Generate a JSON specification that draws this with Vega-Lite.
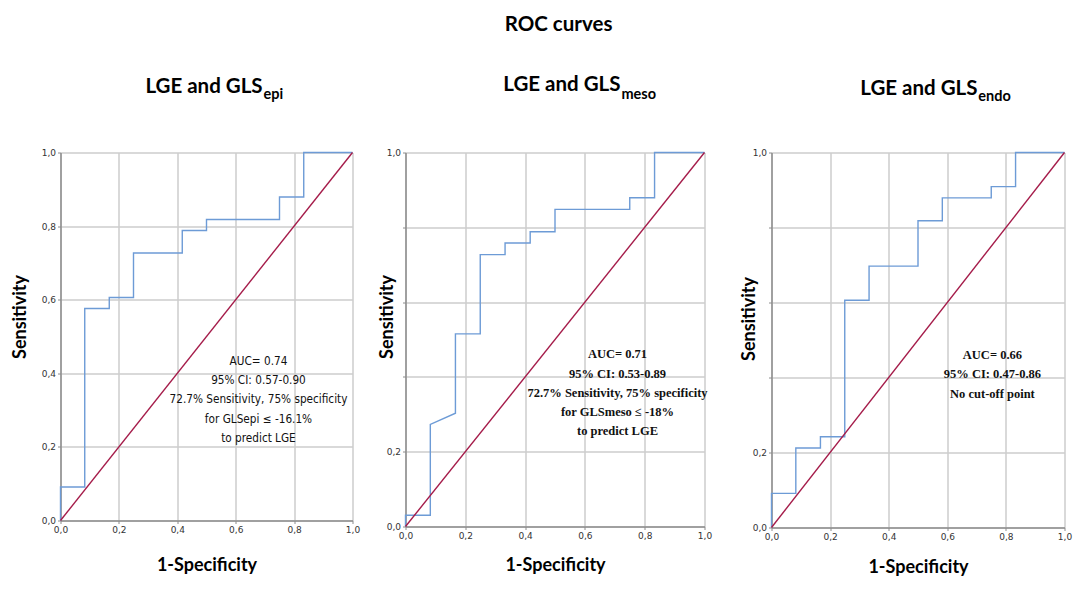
{
  "$schema": "https://vega.github.io/schema/vega-lite/v6.json",
  "background": "white",
  "padding": {"left": 11.5, "top": 14.5, "right": 5, "bottom": 5},
  "title": {"text": "ROC curves", "font": "Lato", "fontSize": 20.5, "fontWeight": "bold", "color": "#000000", "anchor": "middle", "dx": 17, "offset": 40},
  "config": {
    "view": {"stroke": null},
    "axis": {
      "gridColor": "#cccccc", "gridWidth": 1.5, "domainColor": "#8c8c8c", "domainWidth": 1.5,
      "tickColor": "#8c8c8c", "tickSize": 3, "labelFont": "DejaVu Sans", "labelFontSize": 9,
      "labelColor": "#333333", "labelPadding": 2, "labelFlush": false, "labelOverlap": false,
      "titleFont": "Lato", "titleFontWeight": "bold", "titleFontSize": 18, "titleColor": "#000000"
    }
  },
  "hconcat": [
    {
      "bounds": "flush",
      "spacing": 53,
      "hconcat": [
        {
          "width": 292, "height": 368,
          "layer": [
            {
              "data": {"values": [
                {"i": 0, "fpr": 0, "tpr": 0}, {"i": 1, "fpr": 0, "tpr": 0.091}, {"i": 2, "fpr": 0.083, "tpr": 0.091},
                {"i": 3, "fpr": 0.083, "tpr": 0.576}, {"i": 4, "fpr": 0.167, "tpr": 0.576}, {"i": 5, "fpr": 0.167, "tpr": 0.606},
                {"i": 6, "fpr": 0.25, "tpr": 0.606}, {"i": 7, "fpr": 0.25, "tpr": 0.727}, {"i": 8, "fpr": 0.417, "tpr": 0.727},
                {"i": 9, "fpr": 0.417, "tpr": 0.788}, {"i": 10, "fpr": 0.5, "tpr": 0.788}, {"i": 11, "fpr": 0.5, "tpr": 0.818},
                {"i": 12, "fpr": 0.75, "tpr": 0.818}, {"i": 13, "fpr": 0.75, "tpr": 0.879}, {"i": 14, "fpr": 0.833, "tpr": 0.879},
                {"i": 15, "fpr": 0.833, "tpr": 1}, {"i": 16, "fpr": 1, "tpr": 1}
              ]},
              "mark": {"type": "line", "color": "#6d9bd6", "strokeWidth": 1.4},
              "encoding": {
                "x": {"field": "fpr", "type": "quantitative", "scale": {"domain": [0, 1], "nice": false},
                  "axis": {"title": "1-Specificity", "values": [0, 0.2, 0.4, 0.6, 0.8, 1], "labelExpr": "replace(format(datum.value, '.1f'), '.', ',')", "titleY": 45, "titleBaseline": "middle"}},
                "y": {"field": "tpr", "type": "quantitative", "scale": {"domain": [0, 1], "nice": false},
                  "axis": {"title": "Sensitivity", "values": [0, 0.2, 0.4, 0.6, 0.8, 1], "labelExpr": "replace(format(datum.value, '.1f'), '.', ',')", "titleX": -40, "titleY": 164, "titleBaseline": "middle"}},
                "order": {"field": "i", "type": "quantitative"}
              }
            },
            {
              "data": {"values": [{"fpr": 0, "tpr": 0}, {"fpr": 1, "tpr": 1}]},
              "mark": {"type": "line", "color": "#a51c4a", "strokeWidth": 1.4},
              "encoding": {"x": {"field": "fpr", "type": "quantitative"}, "y": {"field": "tpr", "type": "quantitative"}}
            },
            {
              "data": {"values": [{"t": "LGE and GLS"}]},
              "mark": {"type": "text", "font": "Lato", "fontWeight": "bold", "fontSize": 20.5, "align": "right", "baseline": "alphabetic", "color": "#000000"},
              "encoding": {"x": {"datum": 0.692}, "y": {"datum": 1.161}, "text": {"field": "t"}}
            },
            {
              "data": {"values": [{"t": "epi"}]},
              "mark": {"type": "text", "font": "Lato", "fontWeight": "bold", "fontSize": 14.5, "align": "left", "baseline": "alphabetic", "color": "#000000"},
              "encoding": {"x": {"datum": 0.695}, "y": {"datum": 1.145}, "text": {"field": "t"}}
            },
            {
              "data": {"values": [{"t": "AUC= 0.74\n95% CI: 0.57-0.90\n72.7% Sensitivity, 75% specificity\nfor GLSepi ≤ -16.1%\nto predict LGE"}]},
              "mark": {"type": "text", "font": "Liberation Sans Narrow, DejaVu Sans Condensed, Lato", "fontSize": 11.7, "fontWeight": 500, "align": "center", "baseline": "top", "lineBreak": "\n", "lineHeight": 19.3, "color": "#111111"},
              "encoding": {"x": {"datum": 0.678}, "y": {"datum": 0.4476}, "text": {"field": "t"}}
            }
          ]
        },
        {
          "width": 299, "height": 374,
          "layer": [
            {
              "data": {"values": [
                {"i": 0, "fpr": 0, "tpr": 0}, {"i": 1, "fpr": 0, "tpr": 0.03}, {"i": 2, "fpr": 0.083, "tpr": 0.03},
                {"i": 3, "fpr": 0.083, "tpr": 0.273}, {"i": 4, "fpr": 0.167, "tpr": 0.303}, {"i": 5, "fpr": 0.167, "tpr": 0.515},
                {"i": 6, "fpr": 0.25, "tpr": 0.515}, {"i": 7, "fpr": 0.25, "tpr": 0.727}, {"i": 8, "fpr": 0.333, "tpr": 0.727},
                {"i": 9, "fpr": 0.333, "tpr": 0.758}, {"i": 10, "fpr": 0.417, "tpr": 0.758}, {"i": 11, "fpr": 0.417, "tpr": 0.788},
                {"i": 12, "fpr": 0.5, "tpr": 0.788}, {"i": 13, "fpr": 0.5, "tpr": 0.848}, {"i": 14, "fpr": 0.75, "tpr": 0.848},
                {"i": 15, "fpr": 0.75, "tpr": 0.879}, {"i": 16, "fpr": 0.833, "tpr": 0.879}, {"i": 17, "fpr": 0.833, "tpr": 1},
                {"i": 18, "fpr": 1, "tpr": 1}
              ]},
              "mark": {"type": "line", "color": "#6d9bd6", "strokeWidth": 1.4},
              "encoding": {
                "x": {"field": "fpr", "type": "quantitative", "scale": {"domain": [0, 1], "nice": false},
                  "axis": {"title": "1-Specificity", "values": [0, 0.2, 0.4, 0.6, 0.8, 1], "labelExpr": "replace(format(datum.value, '.1f'), '.', ',')", "titleY": 39, "titleBaseline": "middle"}},
                "y": {"field": "tpr", "type": "quantitative", "scale": {"domain": [0, 1], "nice": false},
                  "axis": {"title": "Sensitivity", "values": [0, 0.2, 0.4, 0.6, 0.8, 1], "labelExpr": "datum.value == 0 || datum.value == 0.2 || datum.value == 1 ? replace(format(datum.value, '.1f'), '.', ',') : ''", "titleX": -18, "titleY": 164, "titleBaseline": "middle"}},
                "order": {"field": "i", "type": "quantitative"}
              }
            },
            {
              "data": {"values": [{"fpr": 0, "tpr": 0}, {"fpr": 1, "tpr": 1}]},
              "mark": {"type": "line", "color": "#a51c4a", "strokeWidth": 1.4},
              "encoding": {"x": {"field": "fpr", "type": "quantitative"}, "y": {"field": "tpr", "type": "quantitative"}}
            },
            {
              "data": {"values": [{"t": "LGE and GLS"}]},
              "mark": {"type": "text", "font": "Lato", "fontWeight": "bold", "fontSize": 20.5, "align": "right", "baseline": "alphabetic", "color": "#000000"},
              "encoding": {"x": {"datum": 0.719}, "y": {"datum": 1.164}, "text": {"field": "t"}}
            },
            {
              "data": {"values": [{"t": "meso"}]},
              "mark": {"type": "text", "font": "Lato", "fontWeight": "bold", "fontSize": 14.5, "align": "left", "baseline": "alphabetic", "color": "#000000"},
              "encoding": {"x": {"datum": 0.722}, "y": {"datum": 1.143}, "text": {"field": "t"}}
            },
            {
              "data": {"values": [{"t": "AUC= 0.71\n95% CI: 0.53-0.89\n72.7% Sensitivity, 75% specificity\nfor GLSmeso ≤ -18%\nto predict LGE"}]},
              "mark": {"type": "text", "font": "Liberation Serif", "fontWeight": "bold", "fontSize": 12.5, "align": "center", "baseline": "top", "lineBreak": "\n", "lineHeight": 19.25, "color": "#111111"},
              "encoding": {"x": {"datum": 0.709}, "y": {"datum": 0.4765}, "text": {"field": "t"}}
            }
          ]
        }
      ]
    },
    {
      "width": 293, "height": 375,
      "layer": [
        {
          "data": {"values": [
            {"i": 0, "fpr": 0, "tpr": 0}, {"i": 1, "fpr": 0, "tpr": 0.091}, {"i": 2, "fpr": 0.083, "tpr": 0.091},
            {"i": 3, "fpr": 0.083, "tpr": 0.212}, {"i": 4, "fpr": 0.167, "tpr": 0.212}, {"i": 5, "fpr": 0.167, "tpr": 0.242},
            {"i": 6, "fpr": 0.25, "tpr": 0.242}, {"i": 7, "fpr": 0.25, "tpr": 0.606}, {"i": 8, "fpr": 0.333, "tpr": 0.606},
            {"i": 9, "fpr": 0.333, "tpr": 0.697}, {"i": 10, "fpr": 0.5, "tpr": 0.697}, {"i": 11, "fpr": 0.5, "tpr": 0.818},
            {"i": 12, "fpr": 0.583, "tpr": 0.818}, {"i": 13, "fpr": 0.583, "tpr": 0.879}, {"i": 14, "fpr": 0.75, "tpr": 0.879},
            {"i": 15, "fpr": 0.75, "tpr": 0.909}, {"i": 16, "fpr": 0.833, "tpr": 0.909}, {"i": 17, "fpr": 0.833, "tpr": 1},
            {"i": 18, "fpr": 1, "tpr": 1}
          ]},
          "mark": {"type": "line", "color": "#6d9bd6", "strokeWidth": 1.4},
          "encoding": {
            "x": {"field": "fpr", "type": "quantitative", "scale": {"domain": [0, 1], "nice": false},
              "axis": {"title": "1-Specificity", "values": [0, 0.2, 0.4, 0.6, 0.8, 1], "labelExpr": "replace(format(datum.value, '.1f'), '.', ',')", "titleY": 40, "titleBaseline": "middle"}},
            "y": {"field": "tpr", "type": "quantitative", "scale": {"domain": [0, 1], "nice": false},
              "axis": {"title": "Sensitivity", "values": [0, 0.2, 0.4, 0.6, 0.8, 1], "labelExpr": "datum.value == 0 || datum.value == 0.2 || datum.value == 1 ? replace(format(datum.value, '.1f'), '.', ',') : ''", "titleX": -22, "titleY": 166, "titleBaseline": "middle"}},
            "order": {"field": "i", "type": "quantitative"}
          }
        },
        {
          "data": {"values": [{"fpr": 0, "tpr": 0}, {"fpr": 1, "tpr": 1}]},
          "mark": {"type": "line", "color": "#a51c4a", "strokeWidth": 1.4},
          "encoding": {"x": {"field": "fpr", "type": "quantitative"}, "y": {"field": "tpr", "type": "quantitative"}}
        },
        {
          "data": {"values": [{"t": "LGE and GLS"}]},
          "mark": {"type": "text", "font": "Lato", "fontWeight": "bold", "fontSize": 20.5, "align": "right", "baseline": "alphabetic", "color": "#000000"},
          "encoding": {"x": {"datum": 0.703}, "y": {"datum": 1.154}, "text": {"field": "t"}}
        },
        {
          "data": {"values": [{"t": "endo"}]},
          "mark": {"type": "text", "font": "Lato", "fontWeight": "bold", "fontSize": 14.5, "align": "left", "baseline": "alphabetic", "color": "#000000"},
          "encoding": {"x": {"datum": 0.706}, "y": {"datum": 1.138}, "text": {"field": "t"}}
        },
        {
          "data": {"values": [{"t": "AUC= 0.66\n95% CI: 0.47-0.86\nNo cut-off point"}]},
          "mark": {"type": "text", "font": "Liberation Serif", "fontWeight": "bold", "fontSize": 12.5, "align": "center", "baseline": "top", "lineBreak": "\n", "lineHeight": 19.25, "color": "#111111"},
          "encoding": {"x": {"datum": 0.754}, "y": {"datum": 0.476}, "text": {"field": "t"}}
        }
      ]
    }
  ],
  "spacing": 28,
  "bounds": "full"
}
